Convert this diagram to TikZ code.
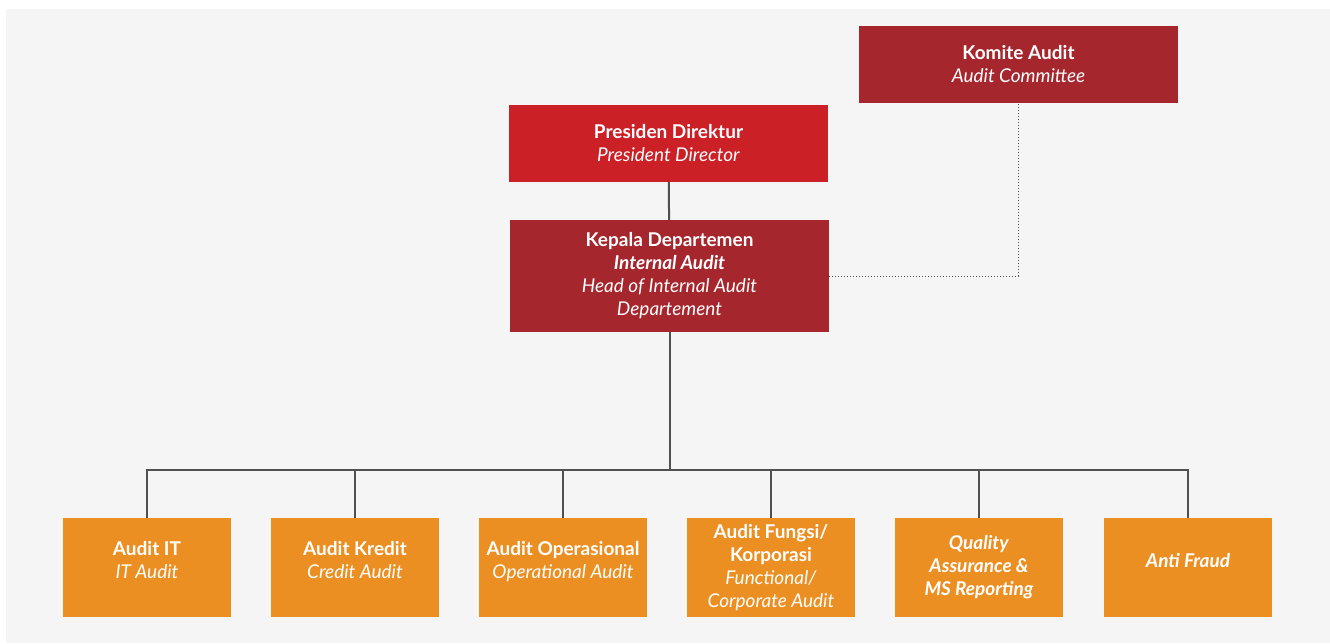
\documentclass[tikz,border=0pt]{standalone}
\usepackage{fontspec}
\setmainfont{Lato}
\definecolor{bggray}{HTML}{F5F5F5}
\definecolor{darkred}{HTML}{A6262D}
\definecolor{brightred}{HTML}{CC2027}
\definecolor{auditorange}{HTML}{EC8F23}
\definecolor{linegray}{HTML}{505050}
\begin{document}
\begin{tikzpicture}[x=1pt,y=-1pt,
		redbox/.style={fill=darkred,text=white,minimum width=319pt,minimum height=77pt,inner sep=0pt,align=center,font=\fontsize{19}{23}\selectfont},
		topbox/.style={redbox,fill=brightred},
		unitbox/.style={fill=auditorange,text=white,minimum width=168pt,minimum height=99pt,inner sep=0pt,align=center,font=\fontsize{19}{23}\selectfont},
		raised/.style={text depth=15pt},
		link/.style={draw=linegray,line width=2pt},
		dotlink/.style={draw=linegray,line width=1pt,dotted}]
		\useasboundingbox (0,0) rectangle (1330,643);
		\fill[bggray] (6,9) rectangle (1330,643);
		\node[redbox] (komite) at (1018.5,64.5) {\textbf{Komite Audit}\\\textit{Audit Committee}};
		\node[topbox] (presdir) at (668.5,143.5) {\textbf{Presiden Direktur}\\\textit{President Director}};
		\node[redbox,minimum height=112pt] (kepala) at (669.5,276) {\textbf{Kepala Departemen}\\\textbf{\textit{Internal Audit}}\\\textit{Head of Internal Audit}\\\textit{Departement}};
		\node[unitbox,raised] (it) at (147,567.5) {\textbf{Audit IT}\\\textit{IT Audit}};
		\node[unitbox,raised] (kredit) at (355,567.5) {\textbf{Audit Kredit}\\\textit{Credit Audit}};
		\node[unitbox,raised] (ops) at (563,567.5) {\textbf{Audit Operasional}\\\textit{Operational Audit}};
		\node[unitbox] (fungsi) at (771,567.5) {\textbf{Audit Fungsi/}\\\textbf{Korporasi}\\\textit{Functional/}\\\textit{Corporate Audit}};
		\node[unitbox] (qa) at (979,567.5) {\textbf{\textit{Quality}}\\\textbf{\textit{Assurance \&}}\\\textbf{\textit{MS Reporting}}};
		\node[unitbox,raised] (fraud) at (1188,567.5) {\textbf{\textit{Anti Fraud}}};
		\coordinate (bus) at (669.5,469.5);
		\draw[link] (presdir) -- (kepala);
		\draw[dotlink] (kepala.east) -| (komite.south);
		\draw[link] (kepala.south) -- (bus);
		\draw[link] (it.north) |- (bus) -| (fraud.north);
		\foreach \u in {kredit,ops,fungsi,qa}
			\draw[link] (\u.north) -- (\u.north |- bus);
	\end{tikzpicture}
\end{document}
